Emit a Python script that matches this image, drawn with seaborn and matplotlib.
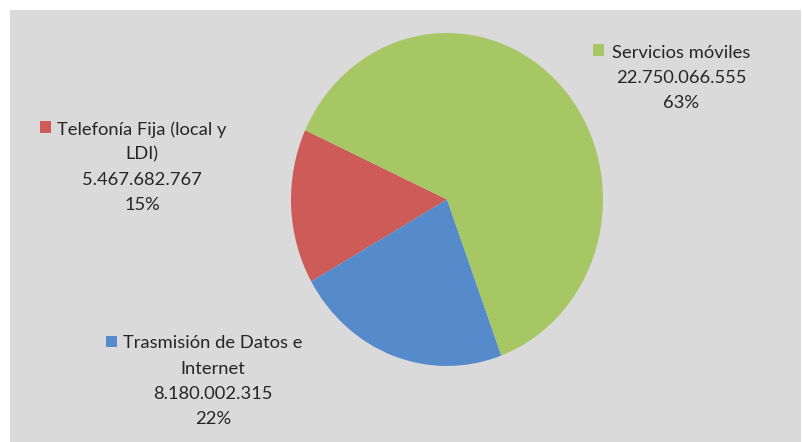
import matplotlib
matplotlib.use("Agg")
import matplotlib.pyplot as plt
from matplotlib.patches import Rectangle
import seaborn as sns

sns.set_theme(style="white")
plt.rcParams["font.family"] = ["Lato", "DejaVu Sans"]

# Ingresos por segmento (pesos)
categorias = ["Telefonía Fija (local y\nLDI)", "Trasmisión de Datos e\nInternet", "Servicios móviles"]
valores = [5467682767, 8180002315, 22750066555]
colores = ["#CD5B57", "#568BCB", "#A7C765"]

W, H = 803, 442
fig = plt.figure(figsize=(W / 100, H / 100), dpi=100, facecolor="white")

# gray chart area
ax_l, ax_t, ax_r, ax_b = 10, 10, 801, 442
ax = fig.add_axes([ax_l / W, 1 - ax_b / H, (ax_r - ax_l) / W, (ax_b - ax_t) / H])

ax.pie(valores, colors=colores, startangle=155.4, counterclock=True,
       wedgeprops=dict(linewidth=0))

ax.set_frame_on(True)
ax.set_facecolor("#DADADA")
for s in ax.spines.values():
    s.set_visible(False)

# pie centre / radii in pixels
cx, cy, rx, ry = 447, 199.5, 156, 166.5
ax.set_aspect("auto")
ax.set_xlim(-(cx - ax_l) / rx, (ax_r - cx) / rx)
ax.set_ylim(-(ax_b - cy) / ry, (cy - ax_t) / ry)
ax.set_xticks([])
ax.set_yticks([])

total = sum(valores)

def fmt(v):
    return f"{v:,}".replace(",", ".")

# label block: (text centre x, first line centre y, square left x) in pixels
posiciones = [(142, 128, 40), (213, 342, 106), (681, 51, 593)]
lh = 25.3
for cat, v, col, (tx, ty, sx) in zip(categorias, valores, colores, posiciones):
    lines = cat.split("\n") + [fmt(v), f"{round(v / total * 100)}%"]
    for i, ln in enumerate(lines):
        fig.text(tx / W, 1 - (ty + i * lh) / H, ln, ha="center", va="center_baseline",
                 fontsize=13.2, color="#262626")
    sq = 11
    fig.patches.append(Rectangle((sx / W, 1 - (ty + sq / 2 - 1) / H), sq / W, sq / H,
                                 transform=fig.transFigure, facecolor=col, edgecolor="none"))

fig.savefig("out.png", dpi=100, facecolor="white")
